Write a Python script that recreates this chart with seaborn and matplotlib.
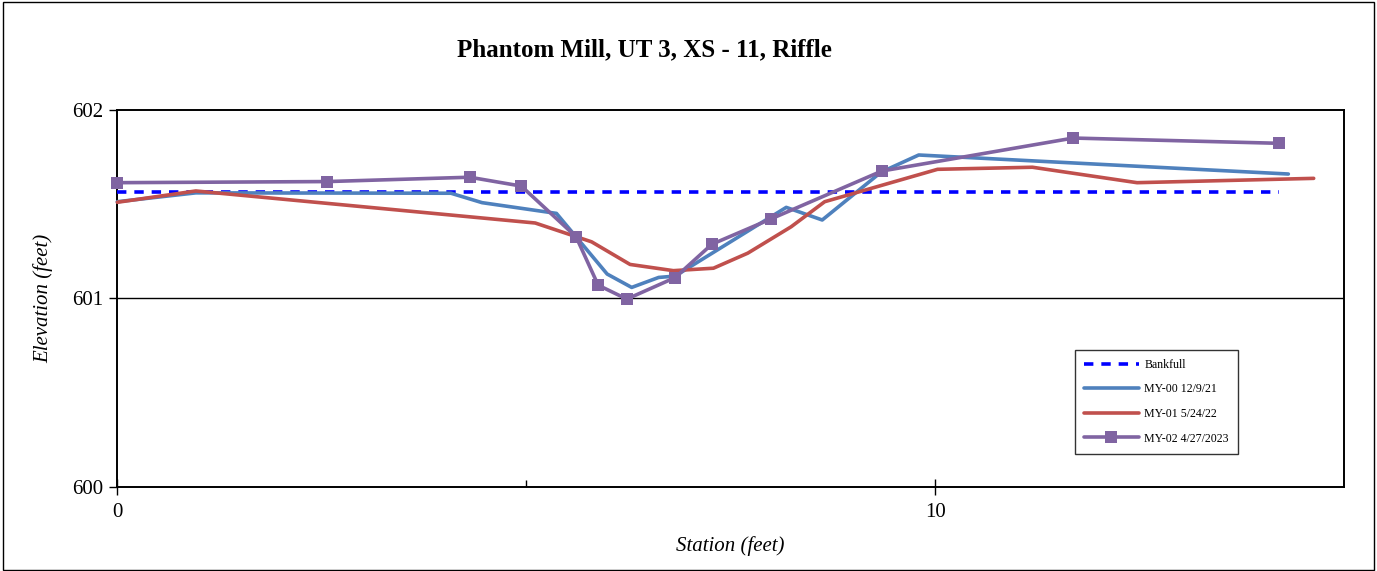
import matplotlib
matplotlib.use("Agg")
import matplotlib.pyplot as plt
import seaborn as sns
import pandas as pd
from matplotlib.ticker import FixedLocator, NullFormatter
from matplotlib.patches import Rectangle

# ---------------- data ----------------
bank_x = [0.0, 14.21]
bank_y = [601.566, 601.566]

my00_x = [0.0, 0.96, 4.08, 4.46, 5.37, 5.99, 6.29, 6.62, 6.82, 8.18, 8.62, 9.34, 9.80, 14.32]
my00_y = [601.513, 601.56, 601.558, 601.508, 601.451, 601.129, 601.058, 601.111, 601.118,
          601.483, 601.416, 601.67, 601.761, 601.66]

my01_x = [0.0, 0.96, 5.11, 5.80, 6.27, 6.80, 7.29, 7.71, 8.24, 8.65, 10.03, 11.19, 12.47, 14.63]
my01_y = [601.51, 601.57, 601.40, 601.30, 601.18, 601.147, 601.16, 601.24, 601.38, 601.513,
          601.685, 601.696, 601.614, 601.637]

my02_x = [0.0, 2.57, 4.31, 4.94, 5.61, 5.88, 6.23, 6.82, 7.27, 7.99, 9.35, 11.69, 14.21]
my02_y = [601.614, 601.62, 601.643, 601.596, 601.327, 601.07, 600.996, 601.11, 601.287,
          601.421, 601.676, 601.851, 601.823]

labels = ["Bankfull", "MY-00 12/9/21", "MY-01 5/24/22", "MY-02 4/27/2023"]
title = "Phantom Mill, UT 3, XS - 11, Riffle"
x_label = "Station (feet)"
y_label = "Elevation (feet)"
y_ticks = [600, 601, 602]
x_major = [0, 10]
x_minor = [5]

# ---------------- style ----------------
sns.set_style("white")
plt.rcParams['font.family'] = ['Liberation Serif', 'DejaVu Serif']
plt.rcParams['text.color'] = 'black'
plt.rcParams['axes.labelcolor'] = 'black'
plt.rcParams['xtick.color'] = 'black'
plt.rcParams['ytick.color'] = 'black'

fig = plt.figure(figsize=(13.77, 5.71), dpi=100)
ax = fig.add_axes([0.0852, 0.1476, 0.8908, 0.6598])

c_bank = "#0000FF"
c00 = "#4F81BD"
c01 = "#C0504D"
c02 = "#8064A2"

sns.lineplot(x=bank_x, y=bank_y, ax=ax, color=c_bank, lw=2.6, sort=False,
             estimator=None, linestyle=(0, (2.6, 2.2)), label=labels[0], zorder=3)
sns.lineplot(x=my00_x, y=my00_y, ax=ax, color=c00, lw=2.6, sort=False,
             estimator=None, label=labels[1], zorder=4)
sns.lineplot(x=my01_x, y=my01_y, ax=ax, color=c01, lw=2.6, sort=False,
             estimator=None, label=labels[2], zorder=4)
sns.lineplot(x=my02_x, y=my02_y, ax=ax, color=c02, lw=2.6, sort=False,
             estimator=None, marker="s", markersize=8, markeredgewidth=0,
             label=labels[3], zorder=5)
for ln in ax.get_lines():
    ln.set_clip_on(False)

ax.set_xlim(0, 15)
ax.set_ylim(600, 602)

ax.xaxis.set_major_locator(FixedLocator(x_major))
ax.xaxis.set_minor_locator(FixedLocator(x_minor))
ax.xaxis.set_minor_formatter(NullFormatter())
ax.yaxis.set_major_locator(FixedLocator(y_ticks))

ax.tick_params(axis='x', which='major', direction='inout', length=12, width=1,
               labelsize=15, pad=6, bottom=True)
ax.tick_params(axis='x', which='minor', direction='in', length=5, width=1, bottom=True)
ax.tick_params(axis='y', which='major', direction='out', length=6, width=1,
               labelsize=15, pad=4, left=True)

ax.grid(False)
ax.axhline(601, color='black', lw=1.0, zorder=1)

for s in ax.spines.values():
    s.set_color('black')
    s.set_linewidth(1.4)
    s.set_visible(True)

ax.set_xlabel(x_label, fontsize=15, style='italic', labelpad=10)
ax.set_ylabel(y_label, fontsize=15, style='italic', labelpad=14)

fig.text(0.468, 0.912, title, ha='center', va='center', fontsize=18, fontweight='bold')

leg = ax.legend(loc='upper left', bbox_to_anchor=(1075 / 1377, 1 - 350 / 571),
                bbox_transform=fig.transFigure, borderaxespad=0, fontsize=8.6,
                frameon=True, fancybox=False, edgecolor='black', handlelength=4.6,
                labelspacing=1.05, borderpad=0.75, handletextpad=0.45)
leg.get_frame().set_linewidth(1.0)
for h in leg.legend_handles:
    h.set_linewidth(2.6)

fig.patches.append(Rectangle((0.002, 0.002), 0.996, 0.995, transform=fig.transFigure,
                             fill=False, edgecolor='black', lw=1.0))

fig.savefig("out.png", dpi=100)
